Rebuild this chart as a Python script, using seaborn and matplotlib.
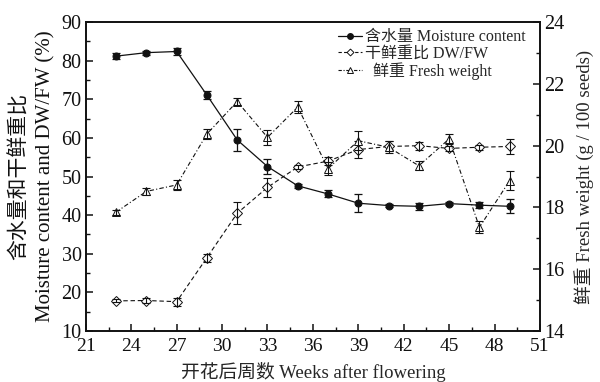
import numpy as np
import pandas as pd
import matplotlib
matplotlib.use("Agg")
import matplotlib.pyplot as plt
from matplotlib.ticker import MultipleLocator
from matplotlib.lines import Line2D
import seaborn as sns

# Sampling weeks after flowering
weeks = [23, 25, 27, 29, 31, 33, 35, 37, 39, 41, 43, 45, 47, 49]

# Moisture content (%)
moisture = [81.2, 82.1, 82.4, 71.1, 59.5, 52.6, 47.6, 45.5, 43.1, 42.5, 42.3, 43.0, 42.6, 42.3]
moisture_err = [0.8, 0.5, 0.8, 1.0, 2.8, 2.0, 0.5, 0.9, 2.3, 0.5, 0.9, 0.4, 0.8, 1.8]

# Dry weight / fresh weight ratio (%)
dwfw = [17.8, 17.9, 17.6, 29.0, 40.5, 47.2, 52.5, 54.0, 57.0, 57.8, 58.0, 57.3, 57.6, 57.8]
dwfw_err = [0.4, 0.6, 1.0, 1.0, 2.8, 2.5, 0.5, 1.0, 2.3, 1.3, 1.0, 0.6, 0.7, 2.0]

# Fresh weight (g / 100 seeds)
fresh = [17.85, 18.52, 18.73, 20.38, 21.43, 20.27, 21.25, 19.26, 20.16, 19.95, 19.35, 20.22, 17.36, 18.87]
fresh_err = [0.08, 0.12, 0.15, 0.15, 0.10, 0.25, 0.20, 0.22, 0.30, 0.20, 0.15, 0.15, 0.20, 0.30]

labels = ["含水量 Moisture content", "干鲜重比 DW/FW", "  鲜重 Fresh weight"]

sns.set_style("ticks")
plt.rcParams["font.family"] = ["Liberation Serif", "Noto Sans CJK SC"]
plt.rcParams["axes.unicode_minus"] = False

df = pd.DataFrame({"week": weeks, "moisture": moisture, "dwfw": dwfw, "fresh": fresh})

fig = plt.figure(figsize=(6.0, 3.82), dpi=100)
ax = fig.add_axes([0.143, 0.1335, 0.757, 0.8085])
ax2 = ax.twinx()

ink = "#111111"

sns.lineplot(data=df, x="week", y="moisture", ax=ax, color=ink, lw=0.9,
             marker="o", markersize=5, markeredgecolor=ink, markerfacecolor=ink)
ax.errorbar(weeks, moisture, yerr=moisture_err, fmt="none", ecolor=ink,
            elinewidth=0.9, capsize=3, capthick=0.9)

sns.lineplot(data=df, x="week", y="dwfw", ax=ax, color=ink, lw=0.8,
             linestyle=(0, (4, 2.5)), marker="D", markersize=4.8,
             markeredgecolor=ink, markerfacecolor="white", markeredgewidth=0.7)
ax.errorbar(weeks, dwfw, yerr=dwfw_err, fmt="none", ecolor=ink,
            elinewidth=0.8, capsize=3, capthick=0.8)

sns.lineplot(data=df, x="week", y="fresh", ax=ax2, color=ink, lw=0.8,
             linestyle=(0, (4, 2, 1, 2)), marker="^", markersize=5.8,
             markeredgecolor=ink, markerfacecolor="white", markeredgewidth=0.7)
ax2.errorbar(weeks, fresh, yerr=fresh_err, fmt="none", ecolor=ink,
             elinewidth=0.8, capsize=3, capthick=0.8)

ax.set_xlim(21, 51)
ax2.set_xlim(21, 51)
ax.set_ylim(10, 90)
ax2.set_ylim(14, 24)
ax.xaxis.set_major_locator(MultipleLocator(3))
ax.xaxis.set_minor_locator(MultipleLocator(1.5))
ax.yaxis.set_major_locator(MultipleLocator(10))
ax.yaxis.set_minor_locator(MultipleLocator(5))
ax2.yaxis.set_major_locator(MultipleLocator(2))
ax2.yaxis.set_minor_locator(MultipleLocator(1))

for a in (ax, ax2):
    for s in a.spines.values():
        s.set_linewidth(1.2)
        s.set_color(ink)
ax.tick_params(axis="both", which="both", direction="in", colors=ink, top=False)
ax.tick_params(axis="y", labelsize=14.5, pad=3)
ax.tick_params(axis="x", labelsize=14, pad=5)
ax.tick_params(which="major", length=5, width=1.1)
ax.tick_params(which="minor", length=3, width=1.0)
ax2.tick_params(axis="y", which="both", direction="in", labelsize=14.5, colors=ink, pad=3)
ax2.tick_params(which="major", length=5, width=1.1)
ax2.tick_params(which="minor", length=3, width=1.0)

ax.set_xlabel("开花后周数 Weeks after flowering", fontsize=13.5, labelpad=5)
ax.set_ylabel("")
ax2.set_ylabel("鲜重 Fresh weight (g / 100 seeds)", fontsize=13.5, labelpad=7)

# Two-line left axis title: Chinese line and English line
yc = 1 - 176 / 382
fig.text(20 / 600, yc, "含水量和干鲜重比", rotation=90, ha="center", va="center",
         fontsize=15, color=ink)
fig.text(46 / 600, yc, "Moisture content and DW/FW (%)", rotation=90, ha="center",
         va="center", fontsize=15, color=ink)

handles = [
    Line2D([], [], color=ink, lw=0.9, marker="o", markersize=4, markerfacecolor=ink),
    Line2D([], [], color=ink, lw=0.8, linestyle=(0, (3, 2)), marker="D", markersize=3.5,
           markerfacecolor="white", markeredgewidth=0.7),
    Line2D([], [], color=ink, lw=0.8, linestyle=(0, (3, 1.5, 1, 1.5)), marker="^", markersize=4,
           markerfacecolor="white", markeredgewidth=0.7),
]
ax.legend(handles, labels, loc="upper right", bbox_to_anchor=(0.99, 1.008), frameon=False,
          fontsize=11.5, handlelength=1.5, handletextpad=0.2, labelspacing=0.02,
          borderaxespad=0.2)

fig.savefig("out.png", dpi=100)
